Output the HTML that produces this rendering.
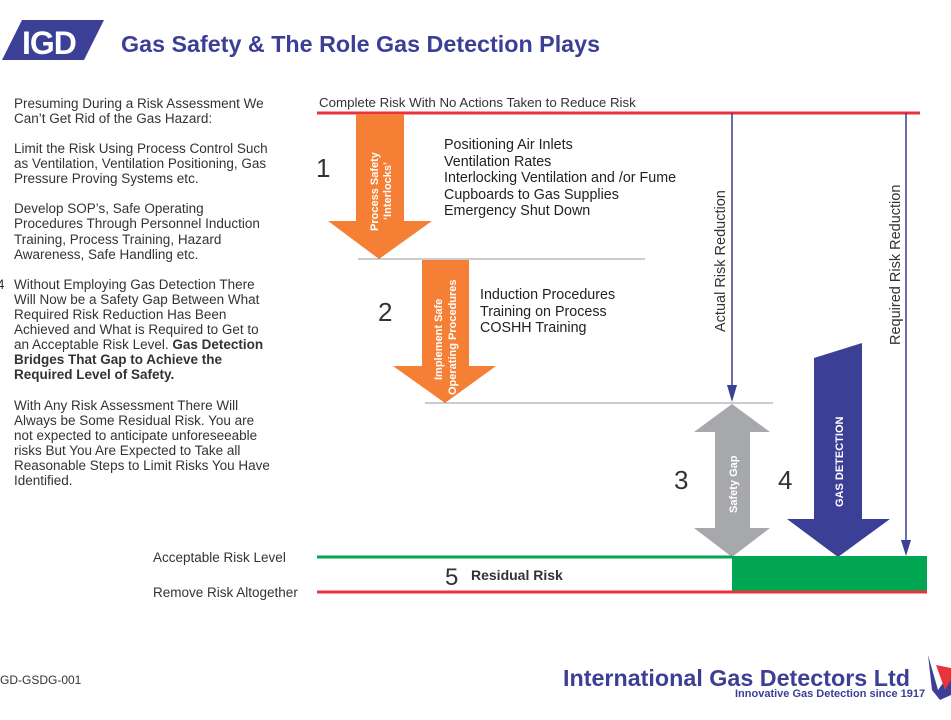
<!DOCTYPE html>
<html><head><meta charset="utf-8"><style>
body{margin:0;background:#fff;width:951px;height:715px;overflow:hidden;font-family:"Liberation Sans",Arial,sans-serif}
</style></head><body>
<svg width="951" height="715" viewBox="0 0 951 715" xmlns="http://www.w3.org/2000/svg" font-family="Liberation Sans, Arial, sans-serif">
<!-- logo -->
<polygon points="22,20 104,20 84,60 2,60" fill="#3b3f95"/>
<text x="22" y="54" font-size="32" font-weight="bold" fill="#fff" letter-spacing="-1">IGD</text>
<text x="121" y="52" font-size="23.3" font-weight="bold" fill="#3b3f95">Gas Safety &amp; The Role Gas Detection Plays</text>

<!-- left text -->
<g font-size="13.5" fill="#333">
<text x="14" y="108">Presuming During a Risk Assessment We</text>
<text x="14" y="123">Can’t Get Rid of the Gas Hazard:</text>
<text x="14" y="153">Limit the Risk Using Process Control Such</text>
<text x="14" y="168">as Ventilation, Ventilation Positioning, Gas</text>
<text x="14" y="183">Pressure Proving Systems etc.</text>
<text x="14" y="213">Develop SOP’s, Safe Operating</text>
<text x="14" y="228">Procedures Through Personnel Induction</text>
<text x="14" y="244">Training, Process Training, Hazard</text>
<text x="14" y="259">Awareness, Safe Handling etc.</text>
<text x="-3" y="289">4</text>
<text x="14" y="289">Without Employing Gas Detection There</text>
<text x="14" y="304">Will Now be a Safety Gap Between What</text>
<text x="14" y="319">Required Risk Reduction Has Been</text>
<text x="14" y="334">Achieved and What is Required to Get to</text>
<text x="14" y="349">an Acceptable Risk Level. <tspan font-weight="bold">Gas Detection</tspan></text>
<text x="14" y="364" font-weight="bold">Bridges That Gap to Achieve the</text>
<text x="14" y="379" font-weight="bold">Required Level of Safety.</text>
<text x="14" y="410">With Any Risk Assessment There Will</text>
<text x="14" y="425">Always be Some Residual Risk. You are</text>
<text x="14" y="440">not expected to anticipate unforeseeable</text>
<text x="14" y="455">risks But You Are Expected to Take all</text>
<text x="14" y="470">Reasonable Steps to Limit Risks You Have</text>
<text x="14" y="485">Identified.</text>
<text x="153" y="562">Acceptable Risk Level</text>
<text x="153" y="597">Remove Risk Altogether</text>
<text x="0" y="684" font-size="12">GD-GSDG-001</text>
</g>

<!-- top -->
<text x="319" y="107" font-size="13.3" fill="#333">Complete Risk With No Actions Taken to Reduce Risk</text>
<line x1="317" y1="113" x2="920" y2="113" stroke="#e8323c" stroke-width="3"/>

<!-- arrow 1 -->
<polygon points="356,114 404,114 404,221 432,221 379,259 328,221 356,221" fill="#f47f35"/>
<text transform="translate(378,231) rotate(-90)" font-size="11" font-weight="bold" fill="#fff">Process Safety</text>
<text transform="translate(391,220) rotate(-90)" font-size="11" font-weight="bold" fill="#fff">‘Interlocks’</text>
<text x="316" y="177" font-size="26" fill="#333">1</text>
<g font-size="14.3" fill="#222">
<text x="444" y="149">Positioning Air Inlets</text>
<text x="444" y="166">Ventilation Rates</text>
<text x="444" y="182">Interlocking Ventilation and /or Fume</text>
<text x="444" y="199">Cupboards to Gas Supplies</text>
<text x="444" y="215">Emergency Shut Down</text>
</g>
<line x1="358" y1="259" x2="645" y2="259" stroke="#999" stroke-width="1"/>

<!-- arrow 2 -->
<polygon points="422,260 469,260 469,366 496,366 445,403 393,366 422,366" fill="#f47f35"/>
<text transform="translate(442,380) rotate(-90)" font-size="11" font-weight="bold" fill="#fff">Implement Safe</text>
<text transform="translate(456,395) rotate(-90)" font-size="11" font-weight="bold" fill="#fff">Operating Procedures</text>
<text x="378" y="321" font-size="26" fill="#333">2</text>
<g font-size="14.3" fill="#222">
<text x="480" y="299">Induction Procedures</text>
<text x="480" y="316">Training on Process</text>
<text x="480" y="332">COSHH Training</text>
</g>
<line x1="425" y1="403" x2="773" y2="403" stroke="#999" stroke-width="1"/>

<!-- actual risk -->
<line x1="732" y1="113" x2="732" y2="388" stroke="#3b3f95" stroke-width="1.5"/>
<polygon points="727,385 737,385 732,402" fill="#3b3f95"/>
<text transform="translate(725,332) rotate(-90)" font-size="14.5" fill="#333">Actual Risk Reduction</text>
<!-- required -->
<line x1="906" y1="113" x2="906" y2="542" stroke="#3b3f95" stroke-width="1.5"/>
<polygon points="901,540 911,540 906,556" fill="#3b3f95"/>
<text transform="translate(900,345) rotate(-90)" font-size="14.5" fill="#333">Required Risk Reduction</text>

<!-- safety gap -->
<polygon points="732,404 770,432 750,432 750,528 770,528 732,557 694,528 715,528 715,432 694,432" fill="#a7a8ab"/>
<text transform="translate(737,513) rotate(-90)" font-size="11" font-weight="bold" fill="#fff">Safety Gap</text>
<text x="674" y="489" font-size="26" fill="#333">3</text>

<!-- gas detection -->
<polygon points="814,358 862,343 862,519 890,519 838,557 787,519 814,519" fill="#3b3f95"/>
<text transform="translate(843,507) rotate(-90)" font-size="11" font-weight="bold" fill="#fff">GAS DETECTION</text>
<text x="778" y="489" font-size="26" fill="#333">4</text>

<!-- bottom -->
<line x1="317" y1="557" x2="732" y2="557" stroke="#00a651" stroke-width="3"/>
<rect x="732" y="556" width="195" height="35" fill="#00a651"/>
<line x1="317" y1="592" x2="927" y2="592" stroke="#e8323c" stroke-width="3"/>
<text x="445" y="585" font-size="24" fill="#333">5</text>
<text x="471" y="580" font-size="14" font-weight="bold" fill="#333">Residual Risk</text>

<!-- footer -->
<text x="563" y="686" font-size="23.3" font-weight="bold" fill="#3b3f95">International Gas Detectors Ltd</text>
<text x="735" y="697" font-size="11" font-weight="bold" fill="#3b3f95">Innovative Gas Detection since 1917</text>
<polygon points="928,655 938,690 951,672 951,695 940,700 932,690" fill="#3b3f95"/>
<polygon points="936,665 945,690 951,680 951,668" fill="#e8323c"/>
</svg>
</body></html>
